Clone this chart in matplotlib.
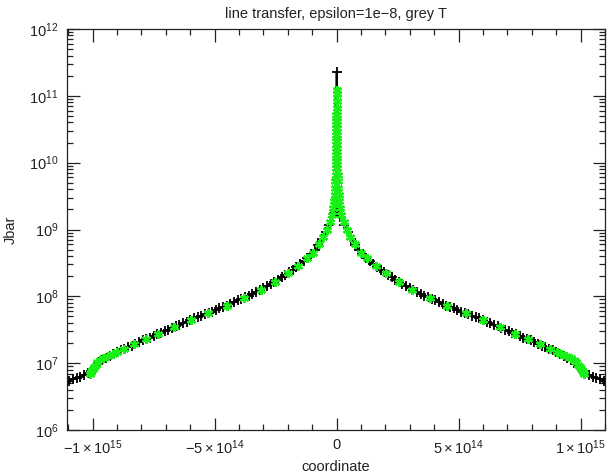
import numpy as np
import matplotlib
matplotlib.use('Agg')
import matplotlib.pyplot as plt
from matplotlib.ticker import MultipleLocator, FixedLocator, NullFormatter

plt.rcParams['font.family'] = ['Liberation Sans', 'DejaVu Sans']
plt.rcParams['mathtext.fontset'] = 'custom'
plt.rcParams['mathtext.rm'] = 'Liberation Sans'
plt.rcParams['mathtext.it'] = 'Liberation Sans:italic'
plt.rcParams['mathtext.default'] = 'regular'

# black curve, left half (x in units of 1e14, log10 Jbar)
black_x_half = [-11.1, -10.95, -10.8, -10.65, -10.5, -10.35, -10.2, -10.05, -9.9, -9.75,
                -9.6, -9.45, -9.3, -9.15, -9.0, -8.85, -8.7, -8.55, -8.4, -8.25,
                -8.1, -7.95, -7.8, -7.65, -7.5, -7.35, -7.2, -7.05, -6.9, -6.75,
                -6.6, -6.45, -6.3, -6.15, -6.0, -5.85, -5.7, -5.55, -5.4, -5.25,
                -5.1, -4.95, -4.8, -4.65, -4.5, -4.35, -4.2, -4.05, -3.9, -3.75,
                -3.6, -3.45, -3.3, -3.15, -3.0, -2.85, -2.7, -2.55, -2.4, -2.25,
                -2.1, -1.95, -1.8, -1.65, -1.5, -1.35, -1.2, -1.05, -0.9, -0.75,
                -0.6, -0.45, -0.3, -0.15, -0.07, -0.035]
black_logj_half = [6.71, 6.74, 6.76, 6.78, 6.80, 6.83, 6.85, 6.88, 6.95, 7.01,
                   7.05, 7.08, 7.10, 7.13, 7.16, 7.19, 7.21, 7.24, 7.26, 7.29,
                   7.31, 7.34, 7.36, 7.38, 7.41, 7.43, 7.45, 7.48, 7.50, 7.53,
                   7.55, 7.57, 7.60, 7.62, 7.65, 7.67, 7.69, 7.71, 7.73, 7.75,
                   7.77, 7.80, 7.82, 7.84, 7.86, 7.88, 7.91, 7.94, 7.96, 7.99,
                   8.01, 8.04, 8.06, 8.09, 8.12, 8.15, 8.18, 8.21, 8.25, 8.29,
                   8.32, 8.36, 8.40, 8.44, 8.49, 8.53, 8.58, 8.63, 8.70, 8.77,
                   8.86, 8.96, 9.07, 9.19, 9.24, 9.26]
black_peak = 11.36

# green stars, left half
green_x_half = [-10.12, -10.08, -10.04, -10.0, -9.96, -9.88, -9.80, -9.71, -9.59, -9.39,
                -9.18, -9.02, -8.73, -8.32, -7.83, -7.30, -6.68, -5.98, -5.29, -4.51,
                -3.81, -3.11, -2.54, -2.01, -1.60, -1.23, -0.98, -0.74, -0.55, -0.41,
                -0.29, -0.20, -0.14, -0.10, -0.08, -0.065, -0.05, -0.04, -0.032, -0.025,
                -0.02, -0.016, -0.013, -0.010, -0.008, -0.006, -0.005, -0.004, -0.003,
                -0.002, -0.001]
green_logj_half = [6.84, 6.87, 6.90, 6.92, 6.95, 6.98, 7.01, 7.04, 7.07, 7.10,
                   7.13, 7.16, 7.21, 7.28, 7.36, 7.44, 7.54, 7.65, 7.75, 7.86,
                   7.98, 8.10, 8.22, 8.35, 8.46, 8.57, 8.65, 8.78, 8.89, 9.00,
                   9.11, 9.22, 9.32, 9.42, 9.52, 9.62, 9.72, 9.82, 9.92, 10.02,
                   10.12, 10.22, 10.32, 10.42, 10.52, 10.62, 10.72, 10.82, 10.92,
                   11.02, 11.08]

# profile is symmetric about x = 0
bx = np.array(black_x_half)
bl = np.array(black_logj_half)
black_x = np.concatenate([bx, [0.0], -bx[::-1]]) * 1e14
black_j = 10 ** np.concatenate([bl, [black_peak], bl[::-1]])

gx = np.array(green_x_half)
gl = np.array(green_logj_half)
green_x = np.concatenate([gx, -gx[::-1]]) * 1e14
green_j = 10 ** np.concatenate([gl, gl[::-1]])

x_ticks = [-1e15, -5e14, 0, 5e14, 1e15]
x_ticklabels = [r'$-1\times10^{15}$', r'$-5\times10^{14}$', '0',
                r'$5\times10^{14}$', r'$1\times10^{15}$']
y_decades = [6, 7, 8, 9, 10, 11, 12]

fig = plt.figure(figsize=(6.07, 4.74), dpi=100)
ax = fig.add_axes([67 / 607, 44 / 474, 538 / 607, 401 / 474])

ax.plot(black_x, black_j, color='black', lw=1.3, marker='+', ms=6.5, mew=1.3)
ax.plot(green_x, green_j, ls='none', marker=(6, 2, 0), ms=6.5, mew=1.6, color='#18f018')

ax.set_yscale('log')
ax.set_ylim(1e6, 1e12)
ax.set_xlim(-1.105e15, 1.1e15)

ax.set_xticks(x_ticks)
ax.set_xticklabels(x_ticklabels)
ax.xaxis.set_minor_locator(MultipleLocator(1e14))
ax.xaxis.set_minor_formatter(NullFormatter())

ax.set_yticks([10.0 ** d for d in y_decades])
ax.set_yticklabels([r'$10^{%d}$' % d for d in y_decades])
minor_y = [m * 10.0 ** d for d in y_decades[:-1] for m in range(2, 10)]
ax.yaxis.set_minor_locator(FixedLocator(minor_y))
ax.yaxis.set_minor_formatter(NullFormatter())

ax.tick_params(which='both', direction='in', top=True, right=True, colors='#222222',
               labelsize=10.5, width=0.9)
ax.tick_params(which='major', length=9, pad=6)
ax.tick_params(which='minor', length=4.5)
for s in ax.spines.values():
    s.set_linewidth(0.9)
    s.set_color('#222222')

ax.set_title('line transfer, epsilon=1e\u22128, grey T', fontsize=10.5, color='#222222', pad=8)
ax.set_xlabel('coordinate', fontsize=10.5, color='#222222', labelpad=2)
ax.set_ylabel('Jbar', fontsize=10.5, color='#222222', labelpad=8)

fig.savefig('out.png', dpi=100)
